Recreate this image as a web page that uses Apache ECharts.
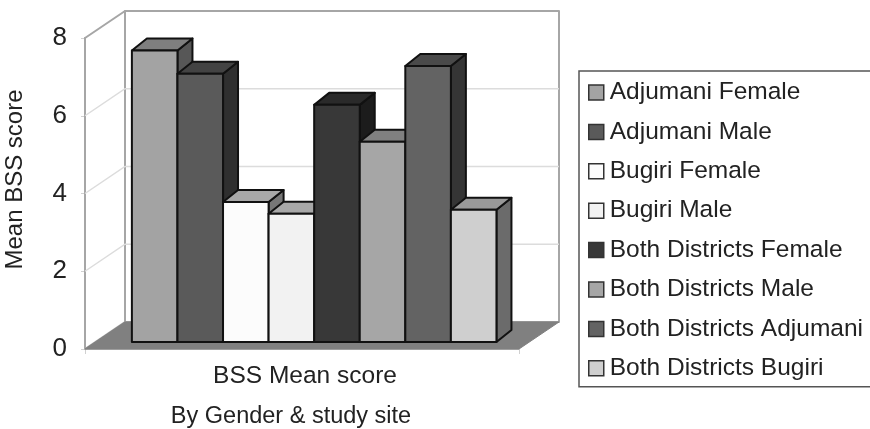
<!DOCTYPE html>
<html>
<head>
<meta charset="utf-8">
<title>BSS Mean score</title>
<script src="https://cdn.jsdelivr.net/npm/echarts@6/dist/echarts.min.js"></script>
<style>
    html, body { margin: 0; padding: 0; background: #fff; }
    #chart { width: 870px; height: 429px; }
</style>
</head>
<body>
<div id="chart"></div>
<script>
const categories = ['BSS Mean score'];
const seriesNames = [
    'Adjumani Female',
    'Adjumani Male',
    'Bugiri Female',
    'Bugiri Male',
    'Both Districts Female',
    'Both Districts Male',
    'Both Districts Adjumani',
    'Both Districts Bugiri'
];
const seriesValues = [7.5, 6.9, 3.6, 3.3, 6.1, 5.15, 7.1, 3.4];
const yTicks = [0, 2, 4, 6, 8];

const frontColors = ['#a3a3a3', '#5a5a5a', '#fcfcfc', '#f2f2f2', '#383838', '#a6a6a6', '#636363', '#cfcfcf'];
const topColors = ['#7f7f7f', '#434343', '#a8a8a8', '#a8a8a8', '#2a2a2a', '#808080', '#4a4a4a', '#999999'];
const sideColors = ['#575757', '#2f2f2f', '#777777', '#777777', '#1c1c1c', '#575757', '#353535', '#6b6b6b'];

// pseudo 3d offsets, in pixels
const wallDepth = [40, -27];
const barShift = [10, -7];
const barDepth = [15, -12];
const barInset = 0.085;
const barWidth = 0.105;
const edgeColor = '#111';
const font = '"Liberation Sans", Arial, sans-serif';

function bandEdges(api) {
    const band = api.size([1, 0])[0];
    const center = api.coord([0, 0])[0];
    return { left: center - band / 2, right: center + band / 2, band: band };
}

function polygon(points, fill, stroke, lineWidth) {
    return {
        type: 'polygon',
        shape: { points: points },
        style: { fill: fill, stroke: stroke, lineWidth: lineWidth, lineJoin: 'round' }
    };
}

function renderWalls(params, api) {
    const edges = bandEdges(api);
    const y0 = api.coord([0, 0])[1];
    const yMax = api.coord([0, yTicks[yTicks.length - 1]])[1];
    const dx = wallDepth[0];
    const dy = wallDepth[1];
    return {
        type: 'group',
        silent: true,
        children: [
            polygon([[edges.left + dx, yMax + dy], [edges.right + dx, yMax + dy], [edges.right + dx, y0 + dy], [edges.left + dx, y0 + dy]], '#fff', '#a6a6a6', 2),
            polygon([[edges.left, yMax], [edges.left + dx, yMax + dy], [edges.left + dx, y0 + dy], [edges.left, y0]], '#fff', '#a6a6a6', 2),
            polygon([[edges.left, y0], [edges.left + dx, y0 + dy], [edges.right + dx, y0 + dy], [edges.right, y0]], '#808080', '#808080', 1)
        ]
    };
}

function renderGridLine(params, api) {
    const edges = bandEdges(api);
    const y = api.coord([0, api.value(0)])[1];
    return {
        type: 'polyline',
        silent: true,
        shape: {
            points: [
                [edges.left, y],
                [edges.left + wallDepth[0], y + wallDepth[1]],
                [edges.right + wallDepth[0], y + wallDepth[1]]
            ]
        },
        style: { fill: 'none', stroke: '#dcdcdc', lineWidth: 1.5 }
    };
}

function renderBar(params, api) {
    const i = params.seriesIndex - 2;
    const edges = bandEdges(api);
    const w = edges.band * barWidth;
    const x0 = edges.left + edges.band * barInset + barShift[0] + w * i;
    const x1 = x0 + w;
    const yBase = api.coord([0, 0])[1] + barShift[1];
    const yTop = api.coord([0, api.value(1)])[1] + barShift[1];
    const dx = barDepth[0];
    const dy = barDepth[1];
    return {
        type: 'group',
        children: [
            polygon([[x1, yTop], [x1 + dx, yTop + dy], [x1 + dx, yBase + dy], [x1, yBase]], sideColors[i], edgeColor, 2),
            polygon([[x0, yTop], [x0 + dx, yTop + dy], [x1 + dx, yTop + dy], [x1, yTop]], topColors[i], edgeColor, 2),
            polygon([[x0, yTop], [x1, yTop], [x1, yBase], [x0, yBase]], frontColors[i], edgeColor, 2)
        ]
    };
}

const barSeries = seriesNames.map(function (name, i) {
    return {
        type: 'custom',
        name: name,
        renderItem: renderBar,
        itemStyle: { color: frontColors[i] },
        encode: { x: 0, y: 1 },
        data: [[0, seriesValues[i]]],
        z: 3
    };
});

const option = {
    animation: false,
    backgroundColor: '#fff',
    textStyle: { fontFamily: font },
    grid: { left: 85, top: 38, width: 434, height: 311, outerBoundsMode: 'none' },
    legend: {
        data: seriesNames,
        orient: 'vertical',
        left: 579,
        top: 71,
        padding: [9, 40, 6, 9],
        backgroundColor: '#fff',
        borderColor: '#555',
        borderWidth: 1.5,
        borderRadius: 0,
        icon: 'rect',
        itemWidth: 15,
        itemHeight: 15,
        itemGap: 14.4,
        selectedMode: false,
        itemStyle: { borderColor: '#333', borderWidth: 1.5 },
        textStyle: { fontFamily: font, fontSize: 24.5, color: '#222', padding: [0, 0, 0, 1] }
    },
    xAxis: {
        type: 'category',
        data: categories,
        name: 'By Gender & study site',
        nameLocation: 'middle',
        nameGap: 56,
        nameTextStyle: { fontFamily: font, fontSize: 23.5, color: '#222', padding: [0, 22, 0, 0] },
        axisLine: { lineStyle: { color: '#bdbdbd', width: 2 } },
        axisTick: { show: true, length: 5, lineStyle: { color: '#d0d0d0' } },
        axisLabel: { fontFamily: font, fontSize: 24.5, color: '#222', margin: 15, padding: [0, 0, 0, 6] }
    },
    yAxis: {
        type: 'value',
        min: 0,
        max: 8,
        interval: 2,
        name: 'Mean BSS score',
        nameLocation: 'middle',
        nameGap: 58,
        nameTextStyle: { fontFamily: font, fontSize: 24, color: '#222', padding: [0, 0, 0, 28] },
        splitLine: { show: false },
        axisLine: { show: true, lineStyle: { color: '#a6a6a6', width: 2 } },
        axisTick: { show: true, length: 4, lineStyle: { color: '#d0d0d0' } },
        axisLabel: { fontFamily: font, fontSize: 26, color: '#222', margin: 18 }
    },
    series: [
        { type: 'custom', renderItem: renderWalls, data: [[0, 0]], encode: { x: 0, y: 1 }, z: 1 },
        {
            type: 'custom',
            renderItem: renderGridLine,
            data: yTicks.slice(1, -1).map(function (v) { return [v]; }),
            z: 2
        }
    ].concat(barSeries)
};

const chart = echarts.init(document.getElementById('chart'));
chart.setOption(option);
</script>
</body>
</html>
